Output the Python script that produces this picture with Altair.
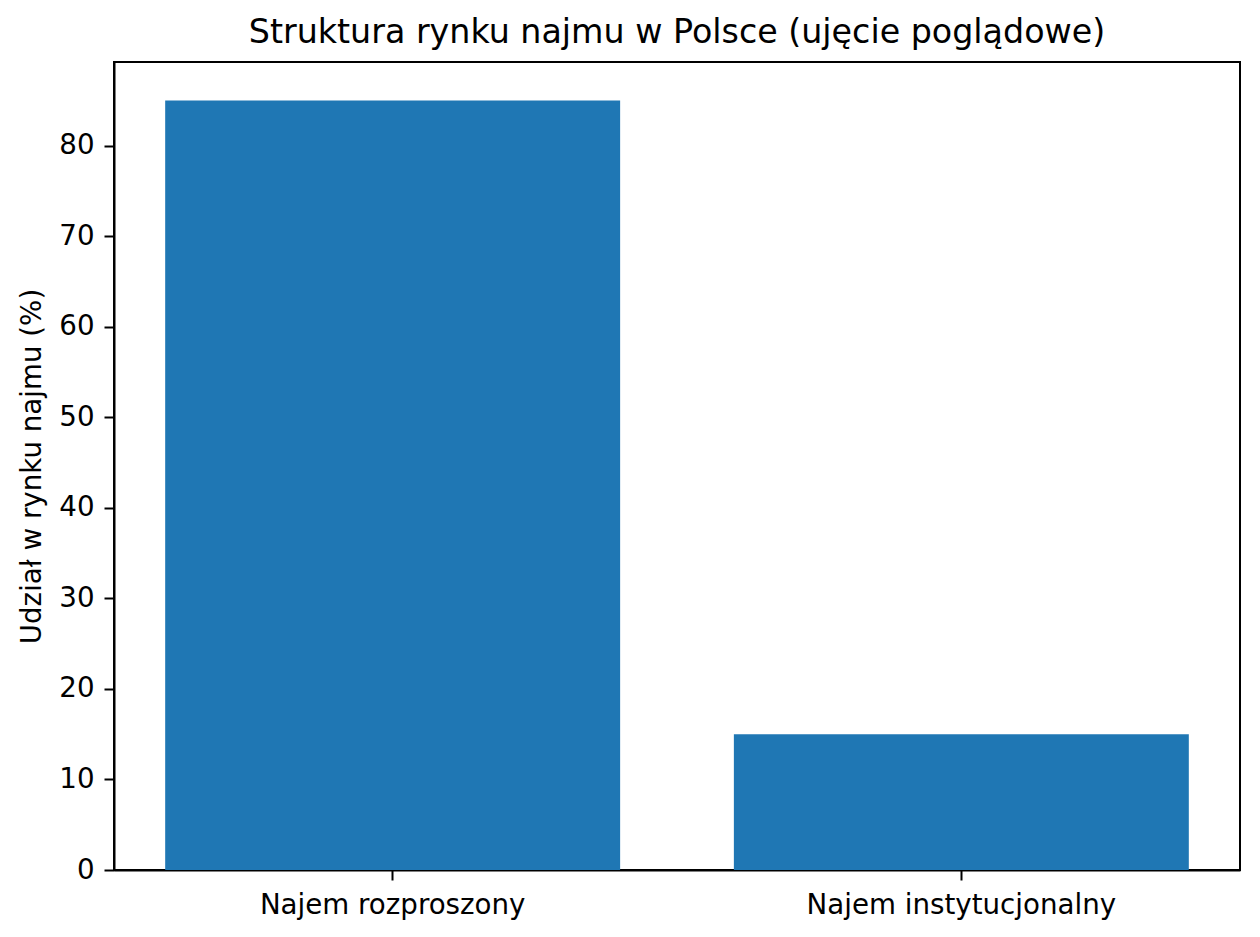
import altair as alt
import pandas as pd

categories = ["Najem rozproszony", "Najem instytucjonalny"]
shares = [85, 15]
y_ticks = [0, 10, 20, 30, 40, 50, 60, 70, 80]

df = pd.DataFrame({"kategoria": categories, "udzial": shares})

FONT = "DejaVu Sans"

chart = alt.Chart(df).mark_bar(color="#1f77b4").encode(
    x=alt.X(
        "kategoria:N",
        sort=categories,
        scale=alt.Scale(paddingInner=0.2, paddingOuter=0.09),
        axis=alt.Axis(
            title=None,
            labelAngle=0,
            labelLimit=0,
            labelFont=FONT,
            labelFontSize=27.7,
            labelColor="black",
            labelPadding=11,
            tickSize=10,
            tickWidth=2,
            tickColor="black",
            domainColor="black",
            domainWidth=2,
            grid=False,
        ),
    ),
    y=alt.Y(
        "udzial:Q",
        scale=alt.Scale(domain=[0, 89.25], nice=False, zero=True),
        axis=alt.Axis(
            title="Udział w rynku najmu (%)",
            values=y_ticks,
            titleFont=FONT,
            titleFontSize=27.7,
            titleFontWeight="normal",
            titleColor="black",
            titleAngle=270,
            titleBaseline="alphabetic",
            titleAlign="center",
            titleX=-74,
            titleY=404,
            labelFont=FONT,
            labelFontSize=27.7,
            labelColor="black",
            labelPadding=10,
            tickSize=10,
            tickWidth=2,
            tickColor="black",
            domainColor="black",
            domainWidth=2,
            grid=False,
        ),
    ),
).properties(
    width=1126,
    height=808,
    title=alt.TitleParams(
        text="Struktura rynku najmu w Polsce (ujęcie poglądowe)",
        font=FONT,
        fontSize=33.3,
        fontWeight="normal",
        color="black",
        anchor="middle",
        offset=12,
    ),
    padding={"left": 106, "top": 54, "right": 12, "bottom": 60},
    autosize=alt.AutoSizeParams(type="none"),
    background="white",
).configure_view(
    stroke="black",
    strokeWidth=2,
)

chart.save("out.html", embed_options={"renderer": "svg", "actions": False})
